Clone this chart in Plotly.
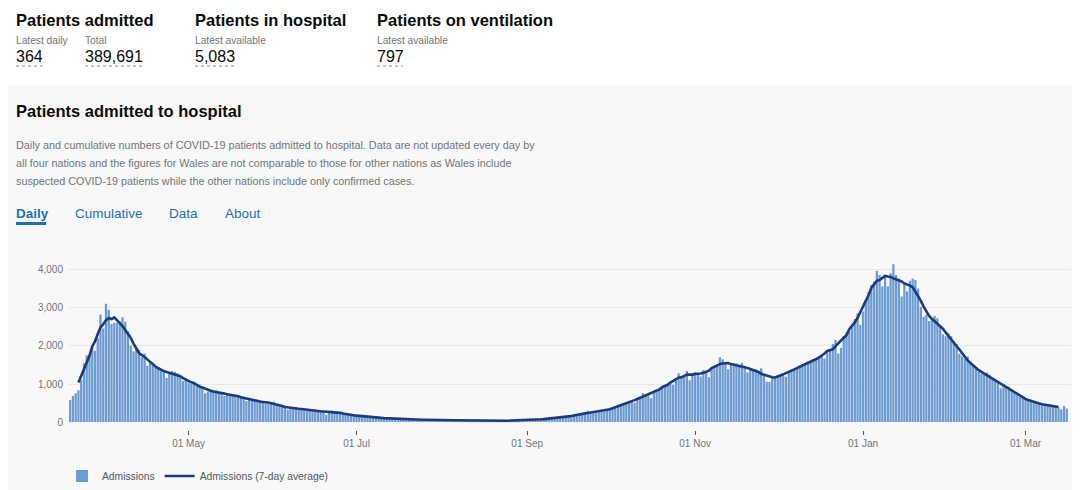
import pandas as pd
import plotly.graph_objects as go

# ---------------- data (daily COVID-19 hospital admissions) ----------------
START_DATE = "2020-03-19"
adm_2020_03 = [585, 690, 760, 840, 1110, 1540, 1750, 1730, 1980, 1870, 2200, 2820, 2450]
adm_2020_04 = [3100, 2940, 2570, 2600, 2600, 2640, 2745, 2630, 2380, 2000, 1850, 1950, 1900, 1700, 1800,
               1480, 1600, 1560, 1470, 1420, 1350, 1330, 1160, 1300, 1340, 1320, 1280, 1200, 1080, 1160]
adm_2020_05 = [1040, 1000, 1060, 980, 990, 930, 760, 800, 850, 830, 830, 790, 760, 690, 720, 740,
               720, 700, 700, 690, 640, 560, 580, 590, 560, 580, 560, 530, 500, 480, 520]
adm_2020_06 = [540, 480, 450, 420, 390, 330, 360, 380, 390, 370, 350, 330, 300, 320, 340,
               330, 310, 300, 280, 200, 250, 310, 280, 260, 250, 230, 210, 190, 200, 180]
adm_2020_07 = [170, 165, 160, 150, 150, 140, 130, 120, 125, 115, 110, 105, 100, 95, 90, 95,
               85, 80, 80, 85, 75, 70, 75, 70, 65, 65, 60, 62, 60, 58, 62]
adm_2020_08 = [60, 55, 58, 60, 55, 52, 55, 52, 50, 54, 50, 48, 52, 50, 47, 45,
               48, 45, 42, 44, 40, 20, 42, 45, 44, 46, 48, 50, 52, 50, 55]
adm_2020_09 = [58, 60, 65, 70, 72, 78, 80, 85, 95, 100, 110, 120, 130, 140, 145,
               150, 160, 170, 185, 195, 210, 230, 300, 250, 260, 270, 285, 290, 290, 300]
adm_2020_10 = [330, 370, 400, 420, 450, 470, 490, 520, 540, 510, 600, 640, 760, 700, 740, 630,
               800, 830, 870, 920, 960, 1000, 1040, 980, 1100, 1280, 1200, 1230, 1340, 1100, 1280]
adm_2020_11 = [1300, 1270, 1200, 1370, 1330, 1180, 1400, 1450, 1500, 1700, 1650, 1560, 1390, 1520, 1500,
               1540, 1490, 1560, 1420, 1310, 1400, 1360, 1390, 1340, 1410, 1250, 1060, 1060, 1180, 1200]
adm_2020_12 = [1230, 1260, 1220, 1190, 1300, 1380, 1400, 1420, 1460, 1450, 1500, 1560, 1600, 1640, 1660, 1700,
               1750, 1670, 1850, 1900, 2050, 2150, 1800, 1950, 2250, 2350, 2380, 2550, 2700, 2850, 2550]
adm_2021_01 = [2900, 3200, 3400, 3590, 3680, 3960, 3850, 3550, 3850, 3560, 3900, 4130, 3850, 3760, 3290, 3630,
               3420, 3700, 3760, 3720, 3500, 3020, 2760, 2810, 2650, 2720, 2780, 2720, 2500, 2300, 2250]
adm_2021_02 = [2320, 2250, 2110, 2050, 1790, 1720, 1670, 1720, 1540, 1470, 1410, 1320, 1260, 1240,
               1300, 1240, 1150, 1100, 1060, 890, 1000, 950, 930, 845, 775, 715, 670, 650]
adm_2021_03 = [600, 600, 540, 515, 495, 480, 480, 455, 455, 427, 427, 410, 390, 340, 427, 364]

Y_TICKS = [0, 1000, 2000, 3000, 4000]
X_TICK0 = "2020-05-01"

MONTHS = [adm_2020_03, adm_2020_04, adm_2020_05, adm_2020_06, adm_2020_07, adm_2020_08, adm_2020_09,
          adm_2020_10, adm_2020_11, adm_2020_12, adm_2021_01, adm_2021_02, adm_2021_03]
admissions = [v for month in MONTHS for v in month]
dates = pd.date_range(START_DATE, periods=len(admissions), freq="D")
avg7 = pd.Series(admissions, index=dates, dtype=float).rolling(7, center=True).mean()

# ---------------- geometry (page pixels; the page body adds an 8px offset) ----------------
OFF = 8
W, H = 1080 - OFF, 490 - OFF
PLOT_LEFT, PLOT_RIGHT = 68, 1071      # page px
PLOT_TOP, PLOT_BOTTOM = 258, 430      # page px (bottom = where the x axis sits)
L = PLOT_LEFT - OFF
R = W - (PLOT_RIGHT - OFF)
T = PLOT_TOP - OFF
B = H - (PLOT_BOTTOM - OFF)
PW, PH = W - L - R, H - T - B
BASE_Y = 422.3          # page row of value 0
PX_PER_1000 = 38.25
PX_PER_DAY = 2.753
FIRST_BAR_X = 70.2      # page x of first bar centre


def px(x):
    return (x - PLOT_LEFT) / PW


def py(y):
    return (PLOT_BOTTOM - y) / PH


x0 = dates[0] - pd.Timedelta(days=(FIRST_BAR_X - PLOT_LEFT) / PX_PER_DAY)
x1 = x0 + pd.Timedelta(days=PW / PX_PER_DAY)
y_top = (BASE_Y - PLOT_TOP) / PX_PER_1000 * 1000

FONT = "Liberation Sans, Arial, sans-serif"
DARK = "#0b0c0c"
GREY = "#6f777b"
BLUE = "#1d70b8"

fig = go.Figure()
fig.add_trace(go.Bar(x=dates, y=admissions, name="Admissions",
                     marker=dict(color="#6b9bd2", line=dict(width=0))))
fig.add_trace(go.Scatter(x=dates, y=avg7, name="Admissions (7-day average)", mode="lines",
                         line=dict(color="#1d3b78", width=2.6), connectgaps=False))

annotations = []


def text(x, y, s, size, color, bold=False):
    annotations.append(dict(x=px(x), y=py(y), xref="paper", yref="paper",
                            text=f"<b>{s}</b>" if bold else s, showarrow=False,
                            xanchor="left", yanchor="middle", borderpad=0,
                            font=dict(size=size, color=color, family=FONT)))


# header stats
text(15, 20, "Patients admitted", 16.5, DARK, True)
text(194, 20, "Patients in hospital", 16.5, DARK, True)
text(376, 20, "Patients on ventilation", 16.5, DARK, True)
text(15, 40, "Latest daily", 10.2, GREY)
text(84, 40, "Total", 10.2, GREY)
text(194, 40, "Latest available", 10.2, GREY)
text(376, 40, "Latest available", 10.2, GREY)
text(15, 56, "364", 16, DARK)
text(84, 56, "389,691", 16, DARK)
text(194, 56, "5,083", 16, DARK)
text(376, 56, "797", 16, DARK)

# panel heading + description + tabs
text(15, 111, "Patients admitted to hospital", 16.5, DARK, True)
text(15, 145, "Daily and cumulative numbers of COVID-19 patients admitted to hospital. Data are not updated every day by", 10.8, GREY)
text(15, 163, "all four nations and the figures for Wales are not comparable to those for other nations as Wales include", 10.8, GREY)
text(15, 181, "suspected COVID-19 patients while the other nations include only confirmed cases.", 10.8, GREY)
text(15, 213, "Daily", 13.5, BLUE, True)
text(74, 213, "Cumulative", 13.5, BLUE)
text(168, 213, "Data", 13.5, BLUE)
text(224, 213, "About", 13.5, BLUE)

shapes = [
    dict(type="rect", xref="paper", yref="paper", x0=px(0), x1=px(1085), y0=py(85), y1=py(495),
         fillcolor="#f8f8f8", line=dict(width=0), layer="below"),
    dict(type="rect", xref="paper", yref="paper", x0=px(16), x1=px(46), y0=py(222), y1=py(225),
         fillcolor=BLUE, line=dict(width=0)),
]
for xa, xb in [(16, 44), (85, 143), (195, 237), (377, 403)]:
    shapes.append(dict(type="line", xref="paper", yref="paper", x0=px(xa), x1=px(xb), y0=py(66), y1=py(66),
                       line=dict(color="#8a9094", width=1, dash="dot")))

fig.update_layout(
    width=W, height=H,
    margin=dict(l=L, r=R, t=T, b=B, autoexpand=False),
    paper_bgcolor="white", plot_bgcolor="rgba(0,0,0,0)",
    font=dict(family=FONT, color=GREY),
    bargap=0.18,
    showlegend=True,
    legend=dict(orientation="h", x=px(62), y=py(476), xanchor="left", yanchor="middle",
                bgcolor="rgba(0,0,0,0)", font=dict(size=10.3, color="#505a5f", family=FONT)),
    xaxis=dict(type="date", range=[x0, x1], anchor="free", position=0, automargin=False,
               tick0=X_TICK0, dtick="M2", tickformat="%d %b",
               ticks="outside", ticklen=4, tickwidth=1, tickcolor="#505a5f",
               showgrid=False, showline=False, zeroline=False,
               tickfont=dict(size=10, color=GREY)),
    yaxis=dict(domain=[py(BASE_Y), 1], range=[0, y_top], tickvals=Y_TICKS, tickformat=",",
               automargin=False,
               showgrid=True, gridcolor="#e8e8e8", gridwidth=1, zeroline=False, showline=False,
               ticks="", ticklabelstandoff=4, tickfont=dict(size=10, color=GREY)),
    annotations=annotations,
    shapes=shapes,
)

fig.write_html("out.html", config={"displayModeBar": False})
